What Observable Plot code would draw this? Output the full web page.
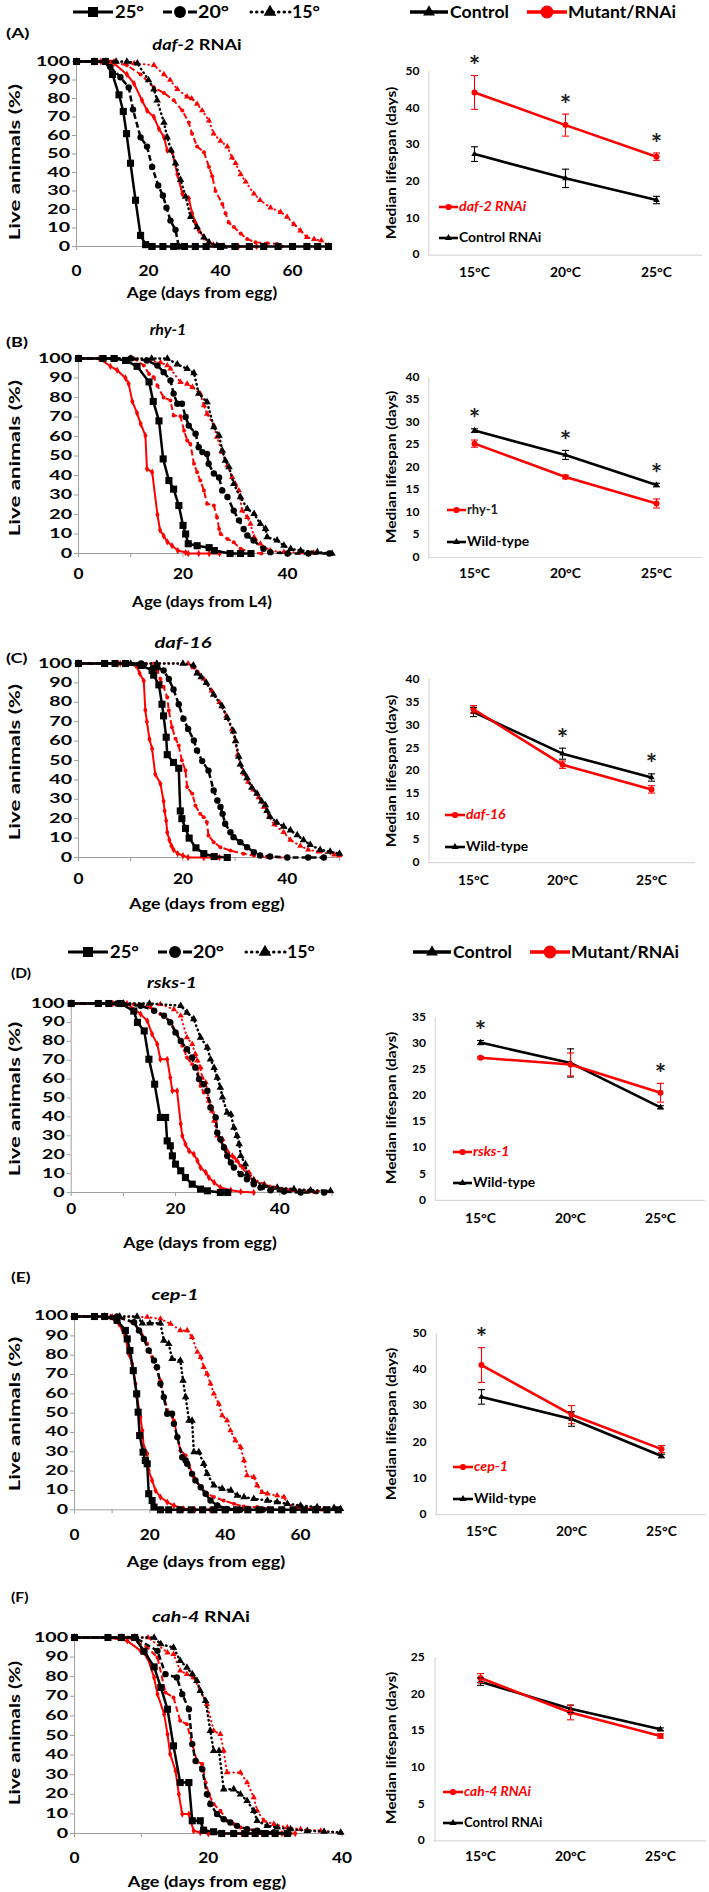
<!DOCTYPE html>
<html><head><meta charset="utf-8">
<script src="https://cdn.jsdelivr.net/npm/d3@7"></script>
<script src="https://cdn.jsdelivr.net/npm/@observablehq/plot@0.6"></script>
<style>
html,body{margin:0;padding:0;background:#fff;}
#fig{position:relative;width:709px;height:1892px;overflow:hidden;font-family:Lato,"Open Sans",sans-serif;font-weight:700;color:#000;}
.t{position:absolute;white-space:nowrap;line-height:1;}
</style></head><body><div id="fig"></div>
<script>
// ---------------- DATA ----------------
const temps = ["15°C", "20°C", "25°C"];
const survTicks = [0, 10, 20, 30, 40, 50, 60, 70, 80, 90, 100];

// (A) daf-2 RNAi — [day, % alive]; c = control RNAi (black), m = daf-2 RNAi (red)
const A_c25 = [[0,100],[5,100],[8,100],[10,93],[11.8,82],[13,73],[13.9,61],[15,45],[16.4,25],[17.8,6],[19.2,1],[21,0],[24,0],[27,0],[30,0],[33,0],[36,0],[40,0],[44,0],[48,0],[52,0],[56,0],[60,0],[64,0],[67,0],[70,0]];
const A_c20 = [[0,100],[5,100],[8,100],[9.4,97],[12.2,91.5],[14.5,86],[15.7,74],[17.8,59],[19.6,54],[21,43],[22.7,33],[24,27.6],[25,21],[26.1,14],[27.5,9],[28.4,0],[30,0]];
const A_c15 = [[0,100],[5,100],[8,100],[11,100],[14,100],[16.9,99],[20,90],[21.5,85],[22.4,79],[24.3,67],[25.2,59],[26.3,52],[27.5,45],[28.9,36],[30.3,27],[31.7,16],[33.5,10.5],[35.4,5],[36.8,2.3],[39,0.5],[41,0]];
const A_m25 = [[0,100],[5,100],[6.7,100],[10.4,99],[14,93],[16,88],[18.2,79],[19.6,73.5],[21.5,70],[22.9,63.6],[24.3,59],[25.2,52],[26.6,51],[28,39],[29.4,28.5],[31.2,26],[32.1,18],[33,13],[34,8.6],[35.4,5],[36.8,2.3],[38,1],[40,0],[45,0],[50,0]];
const A_m20 = [[0,100],[9.4,100],[14,98],[17.8,93],[21.5,86],[24.3,83],[27,79],[29.4,73.5],[31.2,67],[32.1,61],[33.5,54],[35.4,51],[36.8,43],[37.7,38],[38.6,30],[40.5,23],[41.4,18],[42.3,13],[43.7,10.5],[45.6,7],[47.4,4],[49.7,2.3],[53,1.8],[55.7,1.4],[57,0]];
const A_m15 = [[0,100],[10.4,100],[16,99],[21.5,98],[24.3,93],[26,90],[28,85],[30.7,81],[32,80],[33.5,77],[34.9,73.5],[36.8,68],[38.1,61],[40,57],[41.9,54],[43.2,48],[44.2,45],[45.6,39],[47,35],[49.3,28.5],[51,25],[53.9,21],[56.7,18.6],[58.5,16],[60.4,12],[62.2,8.6],[64,5],[66,4],[68,3.2],[70,0.5]];

// (B) rhy-1 — c = wild-type, m = rhy-1
const B_c25 = [[0,100],[4.7,100],[6.8,100],[9,99],[11.2,96],[13.5,88],[14.3,78],[15.4,68],[16.2,48.5],[17.3,37.4],[18.2,33],[19.2,24.6],[20,14.4],[20.5,10],[21,5],[22.7,4],[25,3],[26,1.5],[29,0],[31,0],[33,0]];
const B_c20 = [[0,100],[7,100],[10,100],[13.1,99],[15.1,96.4],[16.3,93],[17.6,88.7],[18.2,82],[18.9,76.8],[19.8,76.8],[20.5,70],[21.1,65.6],[22.4,61.4],[23,54.5],[23.7,52],[24.6,51],[24.9,46],[25.9,41],[26.9,39],[27.5,32.3],[28.5,29],[29.7,22],[30.7,17],[31.6,12.6],[32.3,9.2],[33.5,6.7],[35.4,2.4],[36.7,0.7],[40,0],[44,0],[48,0]];
const B_c15 = [[0,100],[10,100],[14,100],[17,100],[18.9,97],[20.8,94.7],[22.1,92.5],[23,82],[24.6,77.6],[25.9,64.8],[26.9,60.5],[27.5,52.8],[28.1,47.7],[28.8,44.3],[29.7,35.7],[31,28.9],[32.3,22.9],[33.6,20.3],[34.8,15.2],[35.8,12.6],[36.1,8.4],[38,6.7],[39.3,4.1],[40.6,2.4],[42.5,1.5],[45.7,0.7],[48.5,0]];
const B_m25 = [[0,100],[4,100],[6.1,96],[7.4,94],[9,90],[9.6,87],[10.3,78],[11.2,72],[11.9,66.5],[12.8,60.5],[13.1,43.4],[14.1,41.7],[15.1,20],[15.6,12],[16.3,9],[17,6],[17.9,4],[19,1.5],[20.5,0.5],[21,0],[23,0],[25,0],[27,0]];
const B_m20 = [[0,100],[7,100],[10.6,100],[12.5,96.4],[13.5,92],[14.4,90.4],[15.1,86],[16.3,80],[17.6,78.5],[18.2,70.8],[19.5,70.4],[20.2,63],[20.8,58],[21.4,56.2],[22.1,46],[22.7,41.7],[23.3,37.4],[24,32.3],[24.6,25.5],[25.9,24.6],[26.5,18.6],[26.9,12.6],[27.2,10],[28.5,7.5],[29.7,5.8],[31,2.4],[32.9,0.7],[35,0]];
const B_m15 = [[0,100],[10,100],[15.7,98],[17,96.4],[17.6,94.7],[19.5,87.9],[20.8,87],[21.8,85.3],[23.3,81.9],[24,75.9],[24.6,71.6],[25.9,65.6],[26.5,59.7],[27.5,52],[28.5,45.1],[29.4,39.1],[30,35.7],[30.7,32.3],[31.3,22],[32.3,18.6],[32.9,15.2],[33.6,8.4],[34.8,5],[36.7,1.5],[39.3,0.7],[42.5,0.5],[45,0.3],[48.2,0]];

// (C) daf-16 — c = wild-type, m = daf-16
const C_c25 = [[0,100],[5,100],[7,100],[9,100],[12,99],[14.1,96.4],[14.4,94],[15.4,89],[16,79],[16.3,73],[16.8,62],[17,53],[18.2,49],[19.2,46],[19.5,24],[19.8,20],[20.5,15],[21.2,10],[22.5,5],[24,2],[26,0.5],[28.5,0]];
const C_c20 = [[0,100],[7,100],[12,100],[15.1,98],[16.3,96.4],[17.3,92],[18.2,86.6],[19.2,79],[20.1,71.5],[21,66.3],[22.1,60.3],[22.7,55.2],[23.7,49.7],[24.9,44.8],[25.9,34.5],[26.6,29.4],[27.2,26],[27.6,22.5],[28.1,17.4],[29.1,13],[29.7,10.5],[31,7.9],[32.3,5.3],[33.6,2.7],[34.8,1],[36.7,0.5],[40,0],[44,0],[47,0]];
const C_c15 = [[0,100],[10,100],[15,100],[20,100],[22,99],[22.7,95],[23.5,93],[24.5,90],[25.9,84],[27.5,78],[28.5,72],[29.7,65],[30.1,60],[30.7,52],[31,48],[31.6,44],[32.3,41],[33.2,36],[34.2,33],[35.1,29],[35.8,27],[36.1,24],[36.7,21],[38,18],[39.3,16],[40.6,14],[41.9,11.5],[43.1,9],[44.4,6.5],[46.3,4],[48.2,3],[50,2]];
const C_m25 = [[0,100],[8,100],[11,99],[11.7,95],[12.5,91],[12.8,76],[13.1,70],[13.6,61],[14.1,56],[14.7,43],[15.7,38],[16.3,29],[16.5,24],[16.8,19],[17,13],[17.4,9],[17.8,6],[18.2,4],[19,2],[20,1],[21,0],[24,0],[27,0]];
const C_m20 = [[0,100],[10,100],[14.5,100],[15.1,96.4],[15.7,92],[16.3,88],[17,82.6],[17.3,75.8],[17.9,67.2],[18.6,61.2],[19.2,57.7],[19.8,50],[20.5,44.8],[20.8,36.3],[21.8,32.8],[22.4,26.8],[23.3,22.5],[24,20.8],[24.6,18.2],[24.9,11.3],[25.9,7.9],[27.2,5.3],[29.1,3.6],[31.6,1.9],[33.6,1],[36.1,0.2],[40,0]];
const C_m15 = [[0,100],[15,100],[21,100],[22,98],[23,95],[24,92],[25.5,86],[27,80],[28.3,73],[29.4,66],[30,60],[30.5,53],[31,48],[31.8,43],[32.5,39],[33.5,35],[34.5,31],[35.5,26],[36.5,21],[37.5,17],[39.3,13],[40.6,9],[42.5,6],[44,4],[46,3],[49,1.5],[50,1]];

// (D) rsks-1 — c = wild-type, m = rsks-1
const D_c25 = [[0,100],[5.2,100],[7.2,100],[9.5,100],[12,96],[12.7,90],[14,85.5],[14.9,70.5],[16,57.3],[17.1,39.7],[18.1,39.7],[18.4,27.3],[19,24.7],[19.4,19.4],[20,15],[21,11.5],[21.9,7.9],[23.2,4.4],[24.8,1.8],[26.1,0.9],[28.6,0],[30,0]];
const D_c20 = [[0,100],[8.8,100],[13.3,98.8],[15.9,96.2],[17.8,93.5],[19,90],[20,84.7],[21,80.2],[22.2,75.8],[23.2,71.4],[23.8,66.1],[24.5,60],[25.4,57.3],[26.1,53.8],[26.7,45],[27.7,39.7],[28,31.7],[28.6,28.2],[29.3,23.8],[29.9,19.4],[30.6,15.9],[31.2,13.2],[32.5,9.7],[33.7,7],[35,4.4],[36.3,2.6],[38.2,1.2],[40.8,0.5],[44,0],[48.5,0]];
const D_c15 = [[0,100],[10,100],[15,100],[21,98.8],[22.2,95.2],[23.5,91.7],[24.8,82],[26.1,76.7],[26.7,70.5],[27.4,66],[28,60.8],[28.6,55.5],[29,50.3],[29.9,42.3],[30.6,41.4],[31.2,34.4],[31.8,30],[32.2,25.6],[32.5,19.4],[33.4,15],[33.7,9.7],[35,6.2],[37,3.5],[39.5,2.6],[42.7,1.8],[45.9,1.2],[49.7,0.9]];
const D_m25 = [[0,100],[8,100],[10.7,100],[13.3,94.4],[14.6,90.8],[15.5,83.8],[16.5,78.5],[17.1,70.5],[18.4,70.5],[19,60.8],[19.4,53.8],[20.3,53.8],[21,36.2],[21.3,30],[21.9,25.6],[22.6,22],[23.5,20.3],[24.2,16.8],[24.8,13.2],[25.8,10.6],[26.4,7.9],[27.4,5.3],[28.6,2.6],[30.6,1.2],[32.5,0.4],[35,0]];
const D_m20 = [[0,100],[9,100],[12,99.6],[15.2,97.9],[17.1,94.4],[19,90.8],[20.3,83.8],[21.3,77.6],[22.2,71.4],[23.2,67.9],[24.2,65.3],[24.8,56.4],[25.4,52.9],[26.4,48.5],[27,45],[27.7,37.9],[28.2,31],[28.6,27.3],[29.9,20.3],[31.2,18.5],[32.5,14.1],[33.7,9.7],[35,6.2],[37,4.4],[38.9,2.6],[41.5,1.2],[44,0.5],[47,0]];
const D_m15 = [[0,100],[10,100],[17.1,99.6],[19.7,96.9],[21,93.5],[22.2,82],[23.2,78.5],[23.8,73.2],[24.2,69.7],[24.8,66.1],[25.1,60.8],[25.8,58.2],[26.1,53.8],[26.4,48.5],[27,43.2],[27.4,37.9],[28,30],[29,28.2],[29.9,22],[30.9,19.4],[31.8,16.8],[33.1,13.2],[34.1,10.6],[35,7],[37,4.4],[39.5,2.6],[42.7,1.2],[45.9,0.9],[49.7,0.5]];

// (E) cep-1 — c = wild-type, m = cep-1
const E_c25 = [[0,100],[5.3,100],[8,100],[11.3,98],[13.5,92.8],[14,88.4],[14.7,82.4],[15.6,72],[16.5,60],[16.9,50.5],[17.3,38.4],[18.2,29.8],[18.8,25.5],[19.3,23.8],[19.7,8.3],[20.6,4.8],[21.1,1.4],[22.8,0],[25,0],[28,0],[31,0],[34,0],[37,0],[40,0],[43,0],[46,0],[49,0],[52,0],[55,0],[58,0],[61,0],[64,0],[67,0],[70,0]];
const E_c20 = [[0,100],[8,100],[11.3,100],[15.8,97],[17.1,92.8],[18.4,88.4],[19.7,82.4],[21.1,77.2],[21.9,73.8],[22.8,65.2],[23.7,58.3],[24.6,49.7],[25.9,49.7],[26.4,44.5],[27.3,37.6],[28.6,27.2],[29.5,25.5],[29.9,23.8],[31.2,18.6],[32.1,15.2],[33.5,11.7],[34.8,8.3],[36.1,4.8],[37.9,2.2],[40.5,0.5],[44,0],[50,0]];
const E_c15 = [[0,100],[8,100],[12,100],[16.6,100],[18,96.5],[20,96.5],[22.8,96.5],[23.7,87.6],[25,85.9],[25.9,78.1],[28.1,77.2],[28.8,66.9],[29.5,58.3],[30.4,46.2],[31.2,46.2],[31.7,29.8],[33,29.8],[34.3,23.8],[35.2,18.6],[37,12.6],[39.2,10.9],[41.5,10],[43.2,7.4],[45,6.6],[47.6,5.7],[51.2,4.8],[53.8,4],[56.5,3.1],[60,2.2],[64.4,1.4],[68.9,1],[70.6,0.5]];
const E_m25 = [[0,100],[5,100],[9.6,99.7],[11.8,96.2],[13.5,89.3],[14.4,80.7],[15.3,75.5],[16.2,65.2],[16.6,58.3],[17.5,48],[18,41],[18.4,32.4],[19.3,29],[19.7,20.3],[20.6,15.2],[21.5,10],[22.8,6.6],[24.6,4],[26.4,2.2],[29,0.5],[32,0],[36,0],[40,0]];
const E_m20 = [[0,100],[8,100],[11.3,99.7],[15.3,97],[17.5,92.8],[19.3,85.9],[20.6,79],[21.5,73.8],[22.8,66.9],[23.7,58.3],[25,50.5],[26.4,46.2],[27.3,37.6],[28.1,30.7],[29.5,28.1],[30.4,22.9],[31.7,16.9],[33.5,11.7],[35.2,8.3],[37,6.6],[39.6,4.8],[42.3,3.1],[44.9,1.7],[48.5,1.4],[51.2,0.5],[55,0]];
const E_m15 = [[0,100],[10,100],[19.3,99.7],[22.8,98.8],[25.5,96.2],[28.1,92.8],[29.9,92.8],[31.2,89.3],[32.6,81.6],[33.5,79],[34.3,73.8],[35.2,70.3],[36.1,65.2],[37,60],[38.3,54.8],[39.2,48.8],[40.5,46.2],[41.4,41],[42.7,35.9],[44.1,32.4],[45,25.5],[45.8,17.8],[47.6,16.9],[48.5,12.6],[49.8,9.1],[51.2,8.3],[53.8,7.4],[55.6,6.6],[56.5,3.1],[59.2,1.4],[62.7,0.5],[66,0],[69.8,0]];

// (F) cah-4 RNAi — c = control RNAi, m = cah-4 RNAi
const F_c25 = [[0,100],[5,100],[7,100],[9,100],[10.4,93],[11.9,85],[12.9,74.5],[13.9,63.4],[14.8,44.7],[15.8,26],[17.1,26],[17.6,6.5],[18.8,6.5],[19.3,1.7],[20.8,0.9],[22,0],[23.8,0],[25.5,0],[27,0],[28.5,0],[30,0],[31.8,0]];
const F_c20 = [[0,100],[7,100],[9,100],[12.4,93.2],[13.6,81.3],[15.3,79.6],[16.1,71.1],[17.1,63.4],[17.6,45.6],[18.1,37],[19.1,32.8],[19.8,20],[20.3,15],[21.3,9.9],[22.3,7.3],[23.3,5.6],[24.3,3.9],[25.8,2.2],[27.3,1.4],[29.8,0.5],[32,0]];
const F_c15 = [[0,100],[7,100],[9,100],[11.9,100],[12.9,96.6],[14.8,94.9],[15.8,88.1],[16.8,84.7],[17.6,81.3],[18.3,77.9],[18.8,72.8],[19.6,67.7],[20.3,52.4],[20.8,42.2],[21.6,42.2],[22.3,22.6],[23.8,22.6],[24.8,20],[25.8,16.7],[26.8,11.6],[27.3,6.5],[28.8,3.9],[30.3,3.1],[32.3,2.2],[34.8,1.4],[37.3,1],[39.8,0.5]];
const F_m25 = [[0,100],[5,100],[7.9,98.3],[9.9,93.2],[10.9,89.8],[11.9,79.6],[12.4,71.1],[13.4,60.9],[13.9,50.7],[14.3,40.5],[15.1,32],[15.6,20],[16.1,9.9],[17.1,9.9],[17.8,1.4],[18.8,0.5],[20,0],[22,0],[25,0],[28,0],[31,0],[33,0]];
const F_m20 = [[0,100],[8,100],[10.9,94.9],[12.4,89.8],[13.6,71.9],[14.8,69.4],[15.8,57.5],[16.8,55.8],[17.6,45.6],[18.3,37],[19.1,35.4],[19.6,26],[20.1,20],[20.8,15],[21.8,11.6],[22.8,6.5],[23.8,4.8],[24.8,3.1],[26.8,1.7],[28.8,0.5],[31,0]];
const F_m15 = [[0,100],[9,100],[11,100],[13.9,92.3],[14.8,91.5],[15.8,83],[16.8,81.3],[17.8,79.6],[18.8,72.8],[19.8,66],[20.8,52.4],[21.8,50.7],[22.3,42.2],[22.8,31.1],[24.8,31.1],[25.8,26],[26.8,18.4],[27.3,11.6],[28.3,6.5],[29.8,4.8],[31.8,3.1],[33.8,2.2],[36.8,1.4],[39.8,0.5]];

// Median lifespan (days) at 15, 20, 25 °C, with error (±)
const A_ctlMed = [27.5, 20.9, 15.0], A_ctlErr = [2.0, 2.5, 1.0];
const A_mutMed = [44.3, 35.4, 26.8], A_mutErr = [4.6, 3.0, 1.0];
const A_sig = ["15°C", "20°C", "25°C"];
const B_ctlMed = [28.2, 22.8, 16.1], B_ctlErr = [0.4, 1.0, 0.4];
const B_mutMed = [25.3, 17.9, 12.0], B_mutErr = [0.8, 0.4, 1.0];
const B_sig = ["15°C", "20°C", "25°C"];
const C_ctlMed = [32.9, 23.8, 18.6], C_ctlErr = [1.0, 1.2, 0.8];
const C_mutMed = [33.5, 21.4, 16.0], C_mutErr = [0.8, 0.8, 0.8];
const C_sig = ["20°C", "25°C"];
const D_ctlMed = [30.2, 26.3, 17.8], D_ctlErr = [0.4, 2.7, 0.3];
const D_mutMed = [27.3, 26.0, 20.6], D_mutErr = [0.2, 2.2, 1.8];
const D_sig = ["15°C", "25°C"];
const E_ctlMed = [32.5, 26.4, 16.2], E_ctlErr = [2.0, 2.0, 0.5];
const E_mutMed = [41.3, 27.6, 18.1], E_mutErr = [4.8, 2.5, 1.0];
const E_sig = ["15°C"];
const F_ctlMed = [21.7, 18.0, 15.2], F_ctlErr = [0.5, 0.5, 0.2];
const F_mutMed = [22.2, 17.5, 14.3], F_mutErr = [0.6, 1.0, 0.3];
const F_sig = [];

// ---------------- DRAWING ----------------
const RED = "#ff0000", BLACK = "#000000", AX = "#a0a0a0", AXR = "#d9d9d9";
const fig = document.getElementById("fig");

function place(el, left, top) {
  el.style.position = "absolute";
  el.style.left = left + "px";
  el.style.top = top + "px";
  el.style.overflow = "visible";
  fig.appendChild(el);
}
// HTML text, centred (or left-anchored) at x,y; optionally stretched to a target width w
function addText(html, o) {
  const d = document.createElement("div");
  d.className = "t";
  d.innerHTML = html;
  d.style.fontSize = o.size + "px";
  d.style.color = o.color || "#000";
  if (o.italic) d.style.fontStyle = "italic";
  d.style.left = o.x + "px";
  d.style.top = o.y + "px";
  fig.appendChild(d);
  const start = o.anchor === "start";
  const sx = o.w ? o.w / d.offsetWidth : 1;
  d.style.transformOrigin = start ? "0 50%" : "50% 50%";
  d.style.transform = `translate(${start ? "0" : "-50%"},-50%)` + (o.rotate ? " rotate(-90deg)" : "") + ` scaleX(${sx})`;
}
// widen Plot tick labels so that the reference label reaches the reference width
function stretchTicks(svg, which, refText, refWidth) {
  const texts = [...svg.querySelectorAll(`g[aria-label="${which}-axis tick label"] text`)];
  const ref = texts.find(t => t.textContent === refText);
  if (!ref) return;
  const L0 = ref.getComputedTextLength();
  if (!(L0 > 0)) return;
  const sx = refWidth / L0;
  texts.forEach(t => {
    const L = t.getComputedTextLength();
    if (L > 0) { t.setAttribute("textLength", L * sx); t.setAttribute("lengthAdjust", "spacingAndGlyphs"); }
  });
}

const SURV = {
  m15: {stroke: RED, w: 2, dash: "0.5,4", cap: "round", symbol: "triangle", r: 2.3},
  m20: {stroke: RED, w: 2, dash: "6,3", cap: "butt", symbol: "circle", r: 2},
  m25: {stroke: RED, w: 2, dash: null, cap: "round", symbol: "diamond", r: 2.2},
  c15: {stroke: BLACK, w: 2.5, dash: "0.5,4", cap: "round", symbol: "triangle", r: 2.8},
  c20: {stroke: BLACK, w: 2.5, dash: "6,3", cap: "butt", symbol: "circle", r: 3.2},
  c25: {stroke: BLACK, w: 2.5, dash: null, cap: "round", symbol: "square", r: 4}
};

function survPanel(p) {
  const mt = 8, mb = 40, W = 360, xfs = 15;
  const H = p.y0 - p.y100 + mt + mb;
  const marks = [
    Plot.ruleY([0], {stroke: AX}),
    Plot.ruleX([0], {stroke: AX}),
    Plot.axisY({ticks: survTicks, tickSize: 4, tickPadding: 2.5, stroke: AX, fill: "#000", label: null, fontSize: 12.5}),
    Plot.axisX({ticks: p.marks, tickSize: 4, tickFormat: () => "", stroke: AX, label: null}),
    Plot.axisX({ticks: p.labels, tickSize: 0, tickPadding: p.off - 0.35 * xfs, fill: "#000", label: null, fontSize: xfs})
  ];
  for (const k of ["m15", "m20", "m25", "c15", "c20", "c25"]) {
    const s = SURV[k], data = p.series[k];
    const lo = {x: d => d[0], y: d => d[1], stroke: s.stroke, strokeWidth: s.w, strokeLinecap: s.cap, strokeLinejoin: "round"};
    if (s.dash) lo.strokeDasharray = s.dash;
    marks.push(Plot.line(data, lo));
    marks.push(Plot.dot(data, {x: d => d[0], y: d => d[1], symbol: s.symbol, r: s.r, fill: s.stroke, stroke: "none"}));
  }
  const svg = Plot.plot({
    width: W, height: H,
    marginLeft: p.x0, marginRight: W - p.x1, marginTop: mt, marginBottom: mb,
    x: {domain: [0, p.xmax]}, y: {domain: [0, 100]},
    style: {fontFamily: "Lato, sans-serif", fontWeight: 700, fontSize: "13px", color: "#000", background: "none", overflow: "visible"},
    marks
  });
  place(svg, 0, p.y100 - mt);
  stretchTicks(svg, "y", "100", 34);
  stretchTicks(svg, "x", "20", 20);
  addText(p.label, {x: p.lx, y: p.ly, size: 14, anchor: "start", w: p.lw});
  addText(p.title, {x: p.tx, y: p.ty, size: 15.5, w: p.tw});
  addText("Live animals (%)", {x: 14, y: p.yty, size: 16, rotate: true, w: p.ylw});
  addText(p.xt, {x: p.xtx, y: p.xty, size: 15.5, w: p.xtw});
}

const capSymbol = {draw(ctx) { ctx.moveTo(-3.5, 0); ctx.lineTo(3.5, 0); }};

function medPanel(p) {
  const L = 360, W = 349, mt = 24, mb = 30, xfs = 12.5;
  const ml = p.yl - L, mr = L + W - p.xr;
  const H = p.y0 - p.ytop + mt + mb;
  const step = (W - ml - mr) / temps.length;
  const rows = temps.map((t, i) => ({t, c: p.ctl[i], ce: p.ctlErr[i], m: p.mut[i], me: p.mutErr[i]}));
  const topOf = t => { const r = rows.find(d => d.t === t); return Math.max(r.c + r.ce, r.m + r.me); };
  const marks = [
    Plot.ruleY([0], {stroke: AXR, strokeWidth: 1.2}),
    Plot.ruleX([temps[0]], {dx: -step / 2, stroke: AXR, strokeWidth: 1.2}),
    Plot.axisY({ticks: p.yticks, tickSize: 0, tickPadding: 9, fill: "#000", label: null, fontSize: 10.5}),
    Plot.axisX({tickSize: 0, tickPadding: p.off - 0.35 * xfs, fill: "#000", label: null, fontSize: xfs}),
    Plot.line(rows, {x: "t", y: "c", stroke: BLACK, strokeWidth: 2.6}),
    Plot.line(rows, {x: "t", y: "m", stroke: RED, strokeWidth: 2.6}),
    Plot.dot(rows, {x: "t", y: "c", symbol: "triangle", r: 2.4, fill: BLACK, stroke: "none"}),
    Plot.dot(rows, {x: "t", y: "m", symbol: "circle", r: 3, fill: RED, stroke: "none"}),
    Plot.ruleX(rows, {x: "t", y1: d => d.c - d.ce, y2: d => d.c + d.ce, stroke: BLACK, strokeWidth: 1.1}),
    Plot.dot(rows, {x: "t", y: d => d.c - d.ce, symbol: capSymbol, fill: "none", stroke: BLACK, strokeWidth: 1.1}),
    Plot.dot(rows, {x: "t", y: d => d.c + d.ce, symbol: capSymbol, fill: "none", stroke: BLACK, strokeWidth: 1.1}),
    Plot.ruleX(rows, {x: "t", y1: d => d.m - d.me, y2: d => d.m + d.me, stroke: RED, strokeWidth: 1.1}),
    Plot.dot(rows, {x: "t", y: d => d.m - d.me, symbol: capSymbol, fill: "none", stroke: RED, strokeWidth: 1.1}),
    Plot.dot(rows, {x: "t", y: d => d.m + d.me, symbol: capSymbol, fill: "none", stroke: RED, strokeWidth: 1.1}),
    Plot.text(p.sig, {x: d => d, y: d => topOf(d), text: () => "*", dy: -9, fontSize: 27, fontWeight: 700, fill: "#222"})
  ];
  const svg = Plot.plot({
    width: W, height: H,
    marginLeft: ml, marginRight: mr, marginTop: mt, marginBottom: mb,
    x: {type: "point", domain: temps, padding: 0.5},
    y: {domain: [0, p.ymax]},
    style: {fontFamily: "Lato, sans-serif", fontWeight: 700, fontSize: "12px", color: "#000", background: "none", overflow: "visible"},
    marks
  });
  place(svg, L, p.ytop - mt);
  stretchTicks(svg, "y", "10", 14);
  stretchTicks(svg, "x", "15°C", 31);
  addText("Median lifespan (days)", {x: 391, y: (p.ytop + p.y0) / 2, size: 13, rotate: true, w: 153});
  legendSwatch(p.lx1, p.lx2, p.ly1, RED, "circle");
  addText(p.mutName, {x: p.lx2 + 1, y: p.ly1, size: 12.5, anchor: "start", color: p.mutColor, italic: p.mutItalic, w: p.mw});
  legendSwatch(p.lx1, p.lx2, p.ly2, BLACK, "triangle");
  addText(p.ctlName, {x: p.lx2 + 1, y: p.ly2, size: 12.5, anchor: "start", w: p.cw});
}

function legendSwatch(x1, x2, y, color, sym) {
  const w = x2 - x1;
  const svg = d3.create("svg").attr("width", w + 4).attr("height", 12);
  svg.append("line").attr("x1", 2).attr("x2", w + 2).attr("y1", 6).attr("y2", 6).attr("stroke", color).attr("stroke-width", 2.6);
  svg.append("path").attr("transform", `translate(${2 + w / 2},6)`)
    .attr("d", d3.symbol(sym === "circle" ? d3.symbolCircle : d3.symbolTriangle, sym === "circle" ? 30 : 22)()).attr("fill", color);
  place(svg.node(), x1 - 2, y - 6);
}

function topLegends(y, dl, dr) {
  const svg = d3.create("svg").attr("width", 709).attr("height", 30)
    .style("font-family", "Lato, sans-serif").style("font-weight", 700);
  const cy = 15;
  const g = svg.append("g");
  const label = (x, txt, len, fs) => g.append("text").attr("x", x).attr("y", cy).attr("dy", "0.36em").attr("font-size", fs)
    .attr("textLength", len).attr("lengthAdjust", "spacingAndGlyphs").text(txt);
  g.append("line").attr("x1", 73 + dl).attr("x2", 113 + dl).attr("y1", cy).attr("y2", cy).attr("stroke", BLACK).attr("stroke-width", 3);
  g.append("rect").attr("x", 88 + dl).attr("y", cy - 5).attr("width", 10).attr("height", 10).attr("fill", BLACK);
  label(115 + dl, "25°", 29, 16.5);
  g.append("line").attr("x1", 163 + dl).attr("x2", 197 + dl).attr("y1", cy).attr("y2", cy).attr("stroke", BLACK).attr("stroke-width", 3).attr("stroke-dasharray", "9,16");
  g.append("circle").attr("cx", 180 + dl).attr("cy", cy).attr("r", 6).attr("fill", BLACK);
  label(198 + dl, "20°", 31, 16.5);
  g.append("line").attr("x1", 251 + dl).attr("x2", 290 + dl).attr("y1", cy).attr("y2", cy).attr("stroke", BLACK).attr("stroke-width", 3).attr("stroke-dasharray", "0.5,5").attr("stroke-linecap", "round");
  g.append("path").attr("transform", `translate(${270 + dl},${cy})`).attr("d", d3.symbol(d3.symbolTriangle, 70)()).attr("fill", BLACK);
  label(292 + dl, "15°", 28, 16.5);
  g.append("line").attr("x1", 410 + dr).attr("x2", 448 + dr).attr("y1", cy).attr("y2", cy).attr("stroke", BLACK).attr("stroke-width", 3.5);
  g.append("path").attr("transform", `translate(${429 + dr},${cy})`).attr("d", d3.symbol(d3.symbolTriangle, 60)()).attr("fill", BLACK);
  label(450 + dr, "Control", 59, 17);
  g.append("line").attr("x1", 527 + dr).attr("x2", 567 + dr).attr("y1", cy).attr("y2", cy).attr("stroke", RED).attr("stroke-width", 3.5);
  g.append("circle").attr("cx", 547 + dr).attr("cy", cy).attr("r", 6.5).attr("fill", RED);
  label(568 + dr, "Mutant/RNAi", 108, 17);
  place(svg.node(), 0, y - cy);
}

// ---------------- LAYOUT ----------------
topLegends(12, 0, 0);
topLegends(952, -5, 3);

const leftPanels = [
  {label: "(A)", lx: 6, ly: 33, lw: 23, title: "<i>daf-2</i> RNAi", tx: 197, ty: 45, tw: 89, x0: 76, x1: 328, xmax: 70, y100: 61, y0: 246,
   labels: [0, 20, 40, 60], marks: [0, 20, 40, 60], off: 24, xt: "Age (days from egg)", xtx: 202, xty: 293, xtw: 150, yty: 162, ylw: 157,
   series: {c25: A_c25, c20: A_c20, c15: A_c15, m25: A_m25, m20: A_m20, m15: A_m15}},
  {label: "(B)", lx: 6, ly: 342, lw: 22, title: "<i>rhy-1</i>", tx: 168, ty: 330, tw: 37, x0: 78, x1: 332, xmax: 48.6, y100: 358, y0: 553,
   labels: [0, 20, 40], marks: [0, 10, 20, 30, 40], off: 20, xt: "Age (days from L4)", xtx: 202, xty: 602, xtw: 140, yty: 458, ylw: 157,
   series: {c25: B_c25, c20: B_c20, c15: B_c15, m25: B_m25, m20: B_m20, m15: B_m15}},
  {label: "(C)", lx: 6, ly: 658, lw: 22, title: "<i>daf-16</i>", tx: 183, ty: 643, tw: 57, x0: 78, x1: 339, xmax: 50, y100: 663, y0: 857,
   labels: [0, 20, 40], marks: [0, 10, 20, 30, 40, 50], off: 21, xt: "Age (days from egg)", xtx: 207, xty: 904, xtw: 155, yty: 762, ylw: 157,
   series: {c25: C_c25, c20: C_c20, c15: C_c15, m25: C_m25, m20: C_m20, m15: C_m15}},
  {label: "(D)", lx: 11, ly: 973, lw: 20, title: "<i>rsks-1</i>", tx: 172, ty: 983, tw: 50, x0: 70.7, x1: 331.5, xmax: 50, y100: 1002.7, y0: 1191.7,
   labels: [0, 20, 40], marks: [0, 10, 20, 30, 40, 50], off: 16.5, xt: "Age (days from egg)", xtx: 200, xty: 1243, xtw: 153, yty: 1099, ylw: 155,
   series: {c25: D_c25, c20: D_c20, c15: D_c15, m25: D_m25, m20: D_m20, m15: D_m15}},
  {label: "(E)", lx: 11, ly: 1277, lw: 20, title: "<i>cep-1</i>", tx: 175, ty: 1295, tw: 47, x0: 74, x1: 341.5, xmax: 71, y100: 1316, y0: 1509.3,
   labels: [0, 20, 40, 60], marks: [0, 10, 20, 30, 40, 50, 60, 70], off: 24.7, xt: "Age (days from egg)", xtx: 206, xty: 1561.7, xtw: 158, yty: 1414, ylw: 155,
   series: {c25: E_c25, c20: E_c20, c15: E_c15, m25: E_m25, m20: E_m20, m15: E_m15}},
  {label: "(F)", lx: 11, ly: 1597, lw: 18, title: "<i>cah-4</i> RNAi", tx: 201, ty: 1616.7, tw: 98, x0: 74, x1: 341.6, xmax: 40, y100: 1636.7, y0: 1832.7,
   labels: [0, 20, 40], marks: [0, 10, 20, 30, 40], off: 24, xt: "Age (days from egg)", xtx: 207, xty: 1881.7, xtw: 158, yty: 1733, ylw: 145,
   series: {c25: F_c25, c20: F_c20, c15: F_c15, m25: F_m25, m20: F_m20, m15: F_m15}}
];
leftPanels.forEach(survPanel);

const rightPanels = [
  {yl: 428, xr: 702, ymax: 50, ytop: 70.7, y0: 254.3, yticks: [0, 10, 20, 30, 40, 50], off: 17.7,
   ctl: A_ctlMed, ctlErr: A_ctlErr, mut: A_mutMed, mutErr: A_mutErr, sig: A_sig,
   mutName: "daf-2 RNAi", mutColor: RED, mutItalic: true, mw: 67, ctlName: "Control RNAi", cw: 82, lx1: 439, lx2: 458, ly1: 206.7, ly2: 238},
  {yl: 428, xr: 702, ymax: 40, ytop: 376.7, y0: 556.7, yticks: [0, 5, 10, 15, 20, 25, 30, 35, 40], off: 16,
   ctl: B_ctlMed, ctlErr: B_ctlErr, mut: B_mutMed, mutErr: B_mutErr, sig: B_sig,
   mutName: "rhy-1", mutColor: "#222", mutItalic: false, mw: 31, ctlName: "Wild-type", cw: 62, lx1: 447, lx2: 466, ly1: 510, ly2: 541.7},
  {yl: 428, xr: 695, ymax: 40, ytop: 679.3, y0: 862.5, yticks: [0, 5, 10, 15, 20, 25, 30, 35, 40], off: 18.2,
   ctl: C_ctlMed, ctlErr: C_ctlErr, mut: C_mutMed, mutErr: C_mutErr, sig: C_sig,
   mutName: "daf-16", mutColor: RED, mutItalic: true, mw: 40, ctlName: "Wild-type", cw: 62, lx1: 445, lx2: 465, ly1: 815, ly2: 846.7},
  {yl: 434.5, xr: 705, ymax: 35, ytop: 1016.7, y0: 1199.5, yticks: [0, 5, 10, 15, 20, 25, 30, 35], off: 17.8,
   ctl: D_ctlMed, ctlErr: D_ctlErr, mut: D_mutMed, mutErr: D_mutErr, sig: D_sig,
   mutName: "rsks-1", mutColor: RED, mutItalic: true, mw: 36, ctlName: "Wild-type", cw: 62, lx1: 453, lx2: 472, ly1: 1151.7, ly2: 1183.3},
  {yl: 435, xr: 706, ymax: 50, ytop: 1333.3, y0: 1514.5, yticks: [0, 10, 20, 30, 40, 50], off: 17.2,
   ctl: E_ctlMed, ctlErr: E_ctlErr, mut: E_mutMed, mutErr: E_mutErr, sig: E_sig,
   mutName: "cep-1", mutColor: RED, mutItalic: true, mw: 34, ctlName: "Wild-type", cw: 62, lx1: 453, lx2: 473, ly1: 1466.7, ly2: 1499},
  {yl: 433.3, xr: 706, ymax: 25, ytop: 1656.7, y0: 1840, yticks: [0, 5, 10, 15, 20, 25], off: 16,
   ctl: F_ctlMed, ctlErr: F_ctlErr, mut: F_mutMed, mutErr: F_mutErr, sig: F_sig,
   mutName: "cah-4 RNAi", mutColor: RED, mutItalic: true, mw: 67, ctlName: "Control RNAi", cw: 78, lx1: 443, lx2: 463, ly1: 1791.7, ly2: 1823.3}
];
rightPanels.forEach(medPanel);
</script></body></html>
